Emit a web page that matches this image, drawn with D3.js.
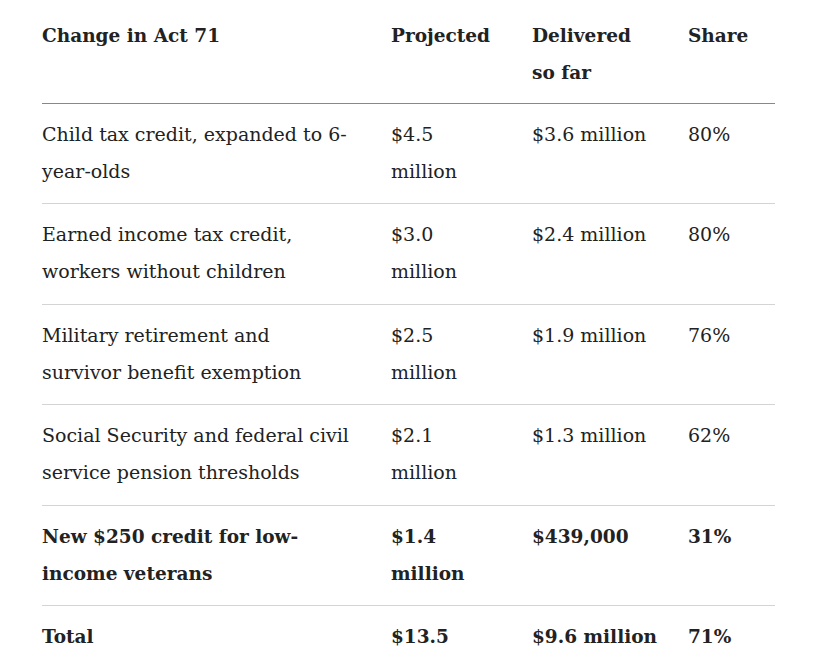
<!DOCTYPE html>
<html lang="en">
<head>
<meta charset="utf-8">
<title>Act 71 table</title>
<script src="https://d3js.org/d3.v7.min.js"></script>
<style>
  body { margin: 0; background: #fff; }
  text { font-family: "DejaVu Serif", serif; fill: #222; }
</style>
</head>
<body>
<script>
var headers = ["Change in Act 71", "Projected", "Delivered\nso far", "Share"];
var changes = ["Child tax credit, expanded to 6-\nyear-olds",
               "Earned income tax credit,\nworkers without children",
               "Military retirement and\nsurvivor benefit exemption",
               "Social Security and federal civil\nservice pension thresholds",
               "New $250 credit for low-\nincome veterans",
               "Total"];
var projected = ["$4.5\nmillion", "$3.0\nmillion", "$2.5\nmillion", "$2.1\nmillion", "$1.4\nmillion", "$13.5\nmillion"];
var delivered = ["$3.6 million", "$2.4 million", "$1.9 million", "$1.3 million", "$439,000", "$9.6 million"];
var shares = ["80%", "80%", "76%", "62%", "31%", "71%"];
var boldRows = [4, 5];

var width = 819, height = 665;
var svg = d3.select("body").append("svg").attr("width", width).attr("height", height);

var colX = [42, 391, 532, 688];
var y = d3.scaleLinear().domain([0, 1]).range([103, 203.4]);

function lines(g, str, x, y0, bold, size) {
  var t = g.append("text").attr("x", x).attr("y", y0)
    .style("font-size", size + "px")
    .style("font-weight", bold ? "bold" : "normal");
  str.split("\n").forEach(function(s, i) {
    t.append("tspan").attr("x", x).attr("dy", i ? 37 : 0).text(s);
  });
}

// header
var hg = svg.append("g");
headers.forEach(function(h, i) { lines(hg, h, colX[i], 42, true, 18.5); });
svg.append("line").attr("x1", 42).attr("x2", 775).attr("y1", 103.5).attr("y2", 103.5)
  .attr("stroke", "#888").attr("stroke-width", 1);

changes.forEach(function(c, r) {
  var g = svg.append("g");
  var top = y(r);
  var bold = boldRows.indexOf(r) >= 0;
  var fs = bold ? 18.5 : 19;
  [c, projected[r], delivered[r], shares[r]].forEach(function(v, i) {
    lines(g, v, colX[i], top + 38, bold, fs);
  });
  if (r > 0) {
    svg.append("line").attr("x1", 42).attr("x2", 775).attr("y1", Math.round(top) + 0.5).attr("y2", Math.round(top) + 0.5)
      .attr("stroke", "#d4d4d4").attr("stroke-width", 1);
  }
});
</script>
</body>
</html>
